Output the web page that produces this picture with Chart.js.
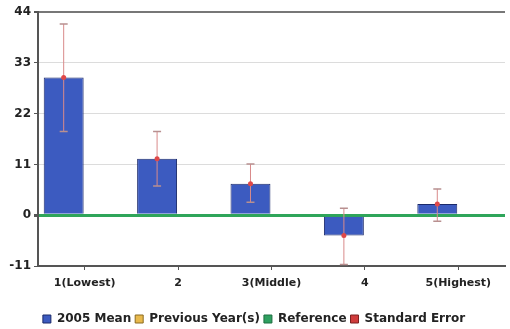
<!DOCTYPE html>
<html>
<head>
<meta charset="utf-8">
<script src="https://cdn.jsdelivr.net/npm/chart.js@4"></script>
<style>
  html, body { margin: 0; padding: 0; background: #fff; }
  #wrap { width: 510px; height: 329px; }
</style>
</head>
<body>
<div id="wrap"><canvas id="incomeChart" width="510" height="329"></canvas></div>
<script>
const categories = ["1(Lowest)", "2", "3(Middle)", "4", "5(Highest)"];
const meanValues = [29.8, 12.2, 6.8, -4.4, 2.4];
const prevValues = [null, null, null, null, null];
const errLow = [18.1, 6.3, 2.8, -10.7, -1.3];
const errHigh = [41.4, 18.1, 11.1, 1.5, 5.7];
const yTicks = [-11, 0, 11, 22, 33, 44];

const FONT = "'DejaVu Sans', Verdana, sans-serif";

// whiskers + mean dots, placed on the bars of the first dataset
const errorBars = {
    id: 'errorBars',
    afterDatasetsDraw(chart) {
        const ctx = chart.ctx;
        const y = chart.scales.y;
        const bars = chart.getDatasetMeta(0).data;
        ctx.save();
        bars.forEach((bar, i) => {
            const x = bar.x;
            const top = y.getPixelForValue(errHigh[i]);
            const bot = y.getPixelForValue(errLow[i]);
            ctx.strokeStyle = '#d98a8a';
            ctx.lineWidth = 1;
            ctx.beginPath();
            ctx.moveTo(x, top); ctx.lineTo(x, bot);
            ctx.stroke();
            ctx.strokeStyle = '#b89090';
            ctx.lineWidth = 1.5;
            ctx.beginPath();
            ctx.moveTo(x - 4, top); ctx.lineTo(x + 4, top);
            ctx.moveTo(x - 4, bot); ctx.lineTo(x + 4, bot);
            ctx.stroke();
            ctx.fillStyle = '#e04848';
            ctx.beginPath();
            ctx.arc(x, y.getPixelForValue(meanValues[i]), 2.5, 0, Math.PI * 2);
            ctx.fill();
        });
        ctx.restore();
    }
};

new Chart(document.getElementById('incomeChart'), {
    type: 'bar',
    data: {
        labels: categories,
        datasets: [
            { label: '2005 Mean', data: meanValues, backgroundColor: '#3c5bc0', borderColor: '#1b2a6a', borderWidth: 1, barPercentage: 0.95, categoryPercentage: 0.9 },
            { label: 'Previous Year(s)', data: prevValues, backgroundColor: '#e8b94c', borderColor: '#8a6a20', borderWidth: 1, barPercentage: 0.95, categoryPercentage: 0.9 },
            { type: 'line', label: 'Reference', data: prevValues, backgroundColor: '#2fa060', borderColor: '#1d6e40', borderWidth: 1 },
            { type: 'line', label: 'Standard Error', data: prevValues, backgroundColor: '#d03c3c', borderColor: '#7a2020', borderWidth: 1 }
        ]
    },
    options: {
        responsive: false,
        animation: false,
        layout: { padding: { top: 12, right: 2, left: 0, bottom: -6 } },
        plugins: {
            legend: {
                position: 'bottom',
                labels: { boxWidth: 8, boxHeight: 8, padding: 4, color: '#222', font: { family: FONT, size: 12, weight: 'bold' } }
            },
            tooltip: { enabled: false }
        },
        scales: {
            x: {
                afterFit: (axis) => { axis.height = 43; },
                grid: { drawOnChartArea: false, offset: false, tickLength: 4, tickColor: '#555' },
                border: { color: '#555', width: 2 },
                ticks: { color: '#222', padding: 7, font: { family: FONT, size: 11, weight: 'bold' } }
            },
            y: {
                min: -11, max: 44,
                afterBuildTicks: (axis) => { axis.ticks = yTicks.map(v => ({ value: v })); },
                afterFit: (axis) => { axis.width = 38; },
                grid: {
                    tickLength: 4,
                    tickColor: '#555',
                    color: (c) => c.tick.value === 0 ? '#2fa55a' : (c.tick.value === 44 ? '#777' : '#dcdcdc'),
                    lineWidth: (c) => c.tick.value === 0 ? 3 : (c.tick.value === 44 ? 2 : 1)
                },
                border: { color: '#555', width: 2 },
                ticks: { color: '#222', padding: 3, font: { family: FONT, size: 12, weight: 'bold' } }
            }
        }
    },
    plugins: [errorBars]
});
</script>
</body>
</html>
